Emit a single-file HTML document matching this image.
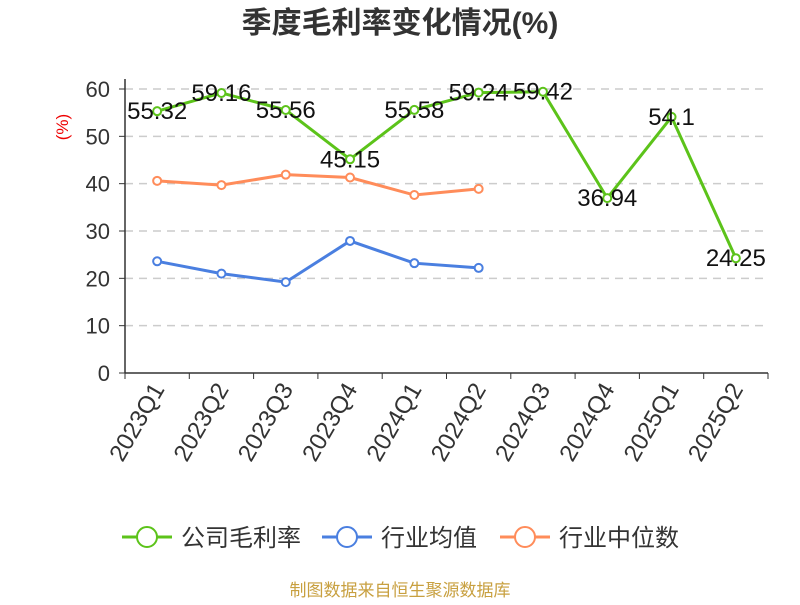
<!DOCTYPE html>
<html><head><meta charset="utf-8"><style>
body{margin:0;background:#fff;font-family:"Liberation Sans","Noto Sans CJK SC",sans-serif;}
</style></head><body>
<svg id="c" width="800" height="600" font-family="Liberation Sans, Noto Sans CJK SC, sans-serif"></svg>
<script>
const categories=["2023Q1","2023Q2","2023Q3","2023Q4","2024Q1","2024Q2","2024Q3","2024Q4","2025Q1","2025Q2"];
const companyValues=[55.32,59.16,55.56,45.15,55.58,59.24,59.42,36.94,54.1,24.25];
const avgValues=[23.6,21.0,19.2,27.9,23.2,22.2];
const medianValues=[40.6,39.7,41.9,41.3,37.6,38.9];
const yTicks=[0,10,20,30,40,50,60];
const NS="http://www.w3.org/2000/svg";
const svg=document.getElementById('c');
const L=125,R=768,T=89,B=373;
const x=i=>L+(R-L)/categories.length*(i+0.5);
const y=v=>B-(B-T)*v/60;
function mk(tag,attrs,parent){const e=document.createElementNS(NS,tag);for(const k in attrs)e.setAttribute(k,attrs[k]);(parent||svg).appendChild(e);return e;}
let t=mk('text',{x:400,y:33,'text-anchor':'middle','font-size':30,'font-weight':'bold',fill:'#333'});t.textContent='季度毛利率变化情况(%)';

t=mk('text',{x:68,y:127,'text-anchor':'middle','font-size':17,fill:'#e00',transform:'rotate(-90 68 127)'});t.textContent='(%)';

yTicks.forEach(v=>{
 if(v>0){const g=mk('line',{x1:L,x2:R,y1:y(v),y2:y(v),stroke:'#ccc','stroke-dasharray':'8,6','stroke-width':1.5});}
 mk('line',{x1:L-6,x2:L,y1:y(v),y2:y(v),stroke:'#333'});
 const tl=mk('text',{x:L-15,y:y(v)+8,'text-anchor':'end','font-size':22,fill:'#333'});tl.textContent=v;
 
});
mk('line',{x1:L,x2:L,y1:T-10,y2:B,stroke:'#333','stroke-width':1.5});
mk('line',{x1:L,x2:R,y1:B,y2:B,stroke:'#333','stroke-width':1.5});
categories.forEach((c,i)=>{
 const bx=L+(R-L)/categories.length*i;
 mk('line',{x1:bx,x2:bx,y1:B,y2:B+6,stroke:'#333'});
 const xl=mk('text',{x:x(i)+8,y:B+16,'text-anchor':'end','font-size':24,fill:'#333',transform:`rotate(-60 ${x(i)+8} ${B+16})`});xl.textContent=c;
 
});
mk('line',{x1:R,x2:R,y1:B,y2:B+6,stroke:'#333'});
function series(vals,color,name,labels){
 const p=mk('polyline',{points:vals.map((v,i)=>x(i)+','+y(v)).join(' '),fill:'none',stroke:color,'stroke-width':3});
 
 vals.forEach((v,i)=>{const c=mk('circle',{cx:x(i),cy:y(v),r:4,fill:'#fff',stroke:color,'stroke-width':2});
  
  if(labels){const l=mk('text',{x:x(i),y:y(v)+8,'text-anchor':'middle','font-size':24,fill:'#111'});l.textContent=v;
   }
 });
}
series(medianValues,'#ff8c5a','industry-median',false);
series(avgValues,'#4a7fe0','industry-average',false);
series(companyValues,'#5cc31a','company-margin',true);
const leg=[['公司毛利率','#5cc31a',122],['行业均值','#4a7fe0',322],['行业中位数','#ff8c5a',500]];
leg.forEach(([n,c,lx])=>{
 const g=mk('g',{});
 mk('line',{x1:lx,x2:lx+50,y1:537,y2:537,stroke:c,'stroke-width':3},g);
 mk('circle',{cx:lx+25,cy:537,r:10,fill:'#fff',stroke:c,'stroke-width':2},g);
 const tx=mk('text',{x:lx+59,y:546,'font-size':24,fill:'#333'},g);tx.textContent=n;
});
t=mk('text',{x:400,y:596,'text-anchor':'middle','font-size':17,fill:'#c8a040'});t.textContent='制图数据来自恒生聚源数据库';

</script>
</body></html>
